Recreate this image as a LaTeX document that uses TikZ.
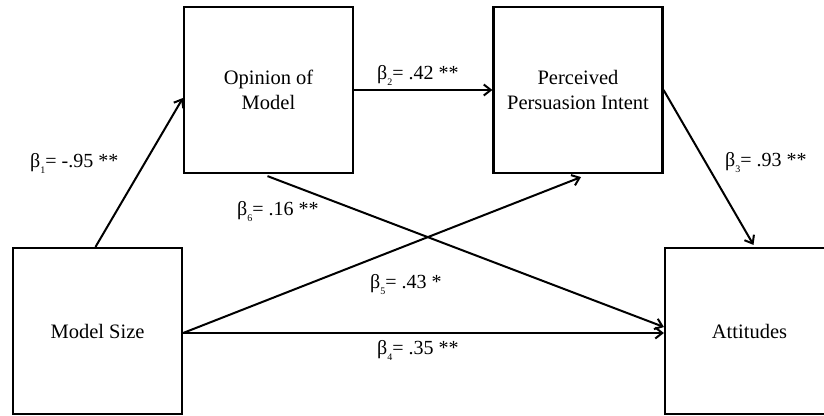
\documentclass[tikz,border=0pt]{standalone}
\usepackage{fontspec}
\setmainfont{Liberation Serif}
\usetikzlibrary{arrows.meta,calc}
\newcommand\bsub[1]{\raisebox{-0.3em}{\fontsize{10}{10}\selectfont #1}}
\tikzset{
  box/.style={draw, line width=2.2pt, minimum width=169pt, minimum height=166pt, align=center, font=\fontsize{20.5}{25}\selectfont, inner sep=0pt},
  conn/.style={line width=2pt, -{Straight Barb[length=7pt,width=11pt,line width=2pt]}},
  lbl/.style={anchor=west, inner sep=0pt, font=\fontsize{20}{24}\selectfont}
}
\begin{document}
\begin{tikzpicture}[x=1pt,y=-1pt]
\useasboundingbox (0,0) rectangle (824,415);
\clip (0,0) rectangle (824,415);
\node[box] (op) at (268.5,90) {Opinion of\\Model};
\node[box] (pp) at (578,90) {Perceived\\Persuasion Intent};
\node[box] (ms) at (97.5,331) {Model Size};
\node[box] (at) at (749.5,331) {Attitudes};
\draw[conn] ($(ms.north)+(-2,0)$) -- ($(op.west)+(0,8)$);
\draw[conn] (op.east) -- (pp.west);
\draw[conn] (pp.east) -- ($(at.north)+(4,-2)$);
\draw[conn] ($(ms.east)+(0,2)$) -- ($(at.west)+(0,2)$);
\draw[conn] ($(ms.east)+(0,2)$) -- ($(pp.south)+(3,3)$);
\draw[conn] ($(op.south)+(-1,2)$) -- ($(at.west)+(0,-4)$);
\node[lbl] (l1) at (30,163) {β\bsub{1}= -.95 **};
\node[lbl] (l2) at (377,75) {β\bsub{2}= .42 **};
\node[lbl] (l3) at (725,163) {β\bsub{3}= .93 **};
\node[lbl] (l6) at (237,212) {β\bsub{6}= .16 **};
\node[lbl] (l5) at (370,285) {β\bsub{5}= .43 *};
\node[lbl] (l4) at (377,350) {β\bsub{4}= .35 **};
\end{tikzpicture}
\end{document}
